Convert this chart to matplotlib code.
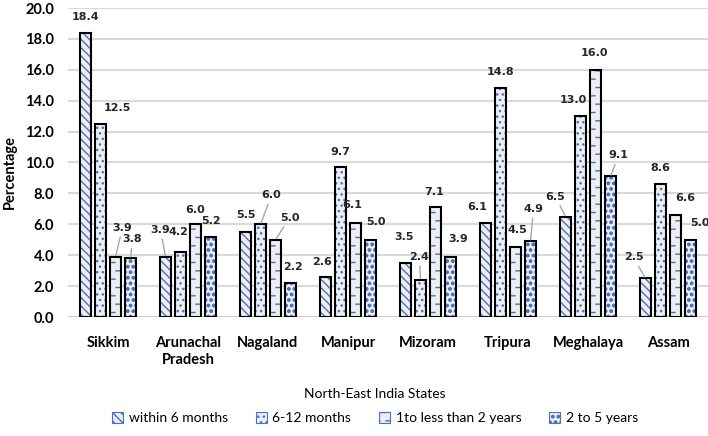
import numpy as np
import matplotlib
matplotlib.use("Agg")
import matplotlib.pyplot as plt
import matplotlib.hatch as mhatch
from matplotlib.path import Path
from matplotlib.patches import Patch

# ─── data ────────────────────────────────────────────────────────────────────
states = ["Sikkim", "Arunachal\nPradesh", "Nagaland", "Manipur", "Mizoram",
          "Tripura", "Meghalaya", "Assam"]
series_names = ["within 6 months", "6-12 months", "1to less than 2 years", "2 to 5 years"]
within_6m = [18.4, 3.9, 5.5, 2.6, 3.5, 6.1, 6.5, 2.5]
m6_to_12 = [12.5, 4.2, 6.0, 9.7, 2.4, 14.8, 13.0, 8.6]
y1_to_2 = [3.9, 6.0, 5.0, 6.1, 7.1, 4.5, 16.0, 6.6]
y2_to_5 = [3.8, 5.2, 2.2, 5.0, 3.9, 4.9, 9.1, 5.0]
series = [within_6m, m6_to_12, y1_to_2, y2_to_5]

# label placement (pixel offsets from bar top, leader line flag) — styling only
label_style = [
    [(0, 16, 0), (-5, 27, 1), (0, 17, 0), (-3, 15, 0), (-1, 26, 0), (-8, 16, 0), (-10, 20, 1), (-12, 21, 1)],
    [(17, 16, 0), (-2, 20, 0), (11, 29, 1), (0, 15, 0), (-1, 23, 1), (0, 16, 0), (-7, 16, 0), (0, 16, 0)],
    [(7, 29, 1), (0, 14, 0), (14, 22, 1), (-3, 18, 0), (-1, 15, 0), (2, 17, 0), (-1, 17, 0), (10, 17, 0)],
    [(2, 19, 1), (0, 16, 0), (3, 16, 0), (5, 18, 0), (8, 18, 0), (3, 32, 1), (8, 21, 1), (9, 17, 0)],
]


# ─── custom Excel-like hatches (dashed horizontals, dense dots) ──────────────
class DashedHorizontal(mhatch.HatchPatternBase):
    def __init__(self, hatch, density):
        self.num_rows = (hatch.count("-") + hatch.count("+")) * density
        self.per_row = 10
        self.num_vertices = self.num_rows * self.per_row * 2

    def set_vertices_and_codes(self, vertices, codes):
        k = 0
        for r in range(self.num_rows):
            yy = (r + 0.5) / self.num_rows
            shift = 0.5 if r % 2 else 0.0
            for j in range(self.per_row):
                x0 = (j + shift + 0.1) / self.per_row
                vertices[k] = (x0, yy)
                vertices[k + 1] = (x0 + 0.4 / self.per_row, yy)
                codes[k] = Path.MOVETO
                codes[k + 1] = Path.LINETO
                k += 2


class DenseDots(mhatch.Circles):
    size = 0.22
    filled = True

    def __init__(self, hatch, density):
        self.num_rows = hatch.count("O") * density
        super().__init__(hatch, density)


mhatch._hatch_types = [
    mhatch.VerticalHatch, DashedHorizontal, mhatch.NorthEastHatch,
    mhatch.SouthEastHatch, mhatch.SmallCircles, DenseDots,
    mhatch.SmallFilledCircles, mhatch.Stars,
]

plt.rcParams["font.family"] = ["Lato", "DejaVu Sans"]
plt.rcParams["hatch.linewidth"] = 1.0

BLUE = "#4472C4"
FACE = "#EEEEEE"
hatches = ["\\\\\\\\", "...", "--", "OOO"]

fig = plt.figure(figsize=(7.08, 4.36), dpi=100)
ax = fig.add_axes([68 / 708, 119 / 436, 640 / 708, 309 / 436])

x = np.arange(len(states))
pitch = 0.1875
width = 0.13

for i, vals in enumerate(series):
    xs = x + (i - 1.5) * pitch
    ax.bar(xs, vals, width, color=FACE, edgecolor=BLUE, hatch=hatches[i],
           linewidth=0, zorder=3)
    ax.bar(xs, vals, width, fill=False, edgecolor="black", linewidth=1.5, zorder=4)
    for xv, v, (dx, dy, lead) in zip(xs, vals, label_style[i]):
        arrow = dict(arrowstyle="-", color="#A6A6A6", lw=1, shrinkA=1, shrinkB=1) if lead else None
        ax.annotate(f"{v:.1f}", xy=(xv, v), xytext=(dx, dy), textcoords="offset pixels",
                    ha="center", va="center", fontsize=8, fontweight="bold",
                    color="#262626", arrowprops=arrow, zorder=5,
                    family=["Liberation Sans Narrow", "DejaVu Sans"])

ax.set_xlim(-0.5, len(states) - 0.5)
ax.set_ylim(0, 20)
ax.set_yticks(np.arange(0, 20.1, 2))
ax.set_yticklabels([f"{t:.1f}" for t in np.arange(0, 20.1, 2)], fontsize=10.5, fontweight="bold")
ax.set_xticks(x)
ax.set_xticklabels(states, fontsize=10.5, fontweight="bold", linespacing=1.25)
ax.tick_params(axis="both", length=0, colors="#000000")
ax.tick_params(axis="y", pad=10)
ax.tick_params(axis="x", pad=14)
ax.grid(axis="y", color="#D9D9D9", linewidth=1.5, zorder=0)
for s in ax.spines.values():
    s.set_visible(False)
ax.axhline(0, color="#D0D0D0", linewidth=1.5, zorder=2)

fig.text(10 / 708, 1 - 172 / 436, "Percentage", rotation=90, ha="center", va="center",
         fontsize=10.5, fontweight="bold")
fig.text(375 / 708, 1 - 394 / 436, "North-East India States", ha="center", va="center",
         fontsize=10)

handles = [Patch(facecolor=FACE, edgecolor=BLUE, hatch=h, linewidth=0.8) for h in hatches]
fig.legend(handles, series_names, loc="center", bbox_to_anchor=(375 / 708, 1 - 418 / 436),
           ncol=4, frameon=False, fontsize=10, handlelength=0.8, handleheight=0.8,
           handletextpad=0.4, columnspacing=2.0)

fig.savefig("out.png", dpi=100)
